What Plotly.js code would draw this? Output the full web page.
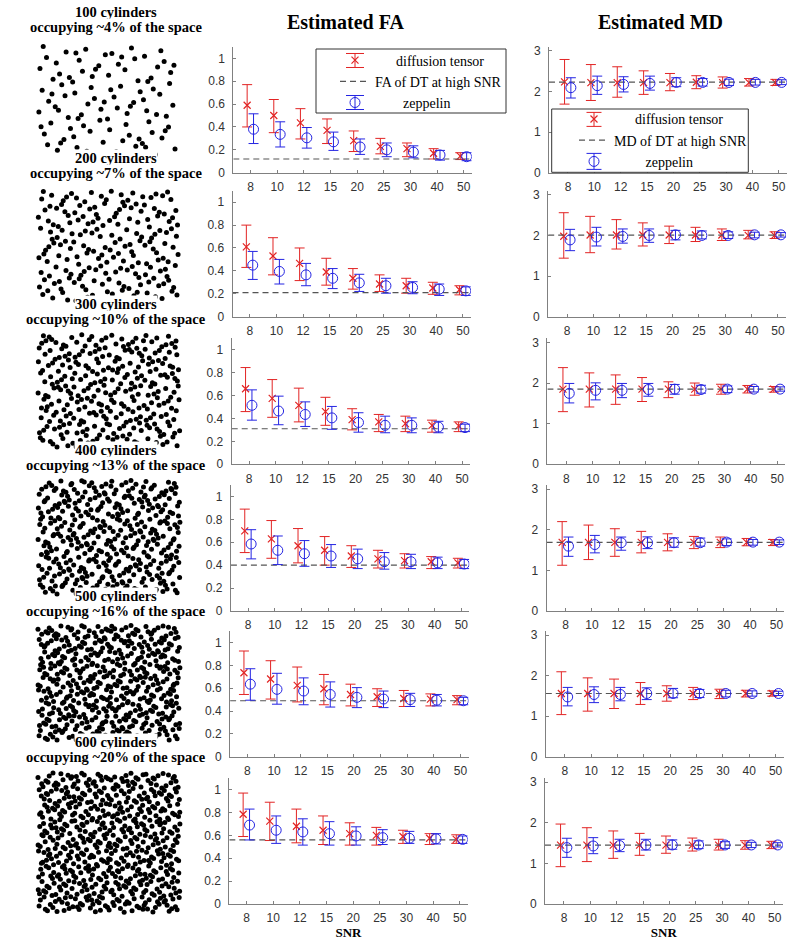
<!DOCTYPE html>
<html><head><meta charset="utf-8">
<script src="https://cdn.plot.ly/plotly-3.0.1.min.js"></script>
<style>html,body{margin:0;padding:0;background:#fff}#chart{width:800px;height:948px}</style>
</head><body><div id="chart"></div>
<script>
// ---------------- data ----------------
const snr = [8, 10, 12, 15, 20, 25, 30, 40, 50];
const cylinders = [100, 200, 300, 400, 500, 600];
const occupancy = [4, 7, 10, 13, 16, 20];

const faRef = [0.12, 0.21, 0.31, 0.40, 0.49, 0.56];
const faDtMean = [
  [0.59, 0.50, 0.435, 0.37, 0.28, 0.23, 0.21, 0.17, 0.145],
  [0.61, 0.53, 0.465, 0.39, 0.335, 0.285, 0.27, 0.25, 0.235],
  [0.66, 0.575, 0.515, 0.46, 0.39, 0.37, 0.355, 0.34, 0.335],
  [0.70, 0.63, 0.57, 0.53, 0.48, 0.455, 0.44, 0.43, 0.42],
  [0.735, 0.68, 0.625, 0.595, 0.545, 0.525, 0.51, 0.505, 0.50],
  [0.785, 0.725, 0.68, 0.645, 0.615, 0.60, 0.59, 0.575, 0.565]];
const faDtHigh = [
  [0.77, 0.64, 0.56, 0.47, 0.365, 0.30, 0.26, 0.21, 0.175],
  [0.80, 0.69, 0.60, 0.51, 0.42, 0.365, 0.335, 0.30, 0.27],
  [0.845, 0.74, 0.665, 0.585, 0.485, 0.435, 0.42, 0.385, 0.37],
  [0.89, 0.79, 0.72, 0.65, 0.57, 0.53, 0.50, 0.475, 0.46],
  [0.925, 0.84, 0.785, 0.72, 0.635, 0.595, 0.58, 0.55, 0.535],
  [0.97, 0.89, 0.83, 0.77, 0.71, 0.67, 0.645, 0.615, 0.605]];
const faDtLow = [
  [0.40, 0.35, 0.295, 0.255, 0.185, 0.165, 0.14, 0.12, 0.115],
  [0.43, 0.365, 0.315, 0.275, 0.24, 0.22, 0.205, 0.195, 0.19],
  [0.46, 0.41, 0.37, 0.34, 0.30, 0.285, 0.285, 0.28, 0.285],
  [0.51, 0.46, 0.42, 0.40, 0.38, 0.375, 0.375, 0.37, 0.375],
  [0.545, 0.505, 0.48, 0.455, 0.445, 0.44, 0.44, 0.445, 0.455],
  [0.59, 0.555, 0.535, 0.52, 0.515, 0.515, 0.53, 0.52, 0.53]];
const faZepMean = [
  [0.38, 0.335, 0.305, 0.27, 0.225, 0.20, 0.18, 0.155, 0.14],
  [0.45, 0.395, 0.365, 0.335, 0.295, 0.27, 0.255, 0.24, 0.225],
  [0.515, 0.465, 0.435, 0.405, 0.365, 0.34, 0.34, 0.325, 0.32],
  [0.585, 0.53, 0.50, 0.48, 0.455, 0.43, 0.43, 0.42, 0.41],
  [0.635, 0.59, 0.575, 0.545, 0.52, 0.505, 0.50, 0.495, 0.49],
  [0.69, 0.645, 0.63, 0.615, 0.595, 0.58, 0.575, 0.57, 0.565]];
const faZepHigh = [
  [0.515, 0.445, 0.395, 0.355, 0.295, 0.26, 0.235, 0.195, 0.175],
  [0.57, 0.50, 0.465, 0.42, 0.37, 0.335, 0.305, 0.285, 0.26],
  [0.65, 0.595, 0.545, 0.505, 0.45, 0.42, 0.405, 0.375, 0.35],
  [0.71, 0.655, 0.615, 0.58, 0.54, 0.51, 0.495, 0.47, 0.45],
  [0.77, 0.73, 0.69, 0.655, 0.605, 0.575, 0.555, 0.545, 0.52],
  [0.83, 0.77, 0.745, 0.72, 0.675, 0.65, 0.635, 0.615, 0.595]];
const faZepLow = [
  [0.255, 0.225, 0.215, 0.195, 0.16, 0.14, 0.13, 0.11, 0.105],
  [0.325, 0.285, 0.27, 0.245, 0.22, 0.205, 0.20, 0.185, 0.185],
  [0.385, 0.345, 0.33, 0.305, 0.28, 0.275, 0.275, 0.275, 0.285],
  [0.455, 0.405, 0.39, 0.38, 0.37, 0.365, 0.37, 0.37, 0.37],
  [0.495, 0.46, 0.455, 0.435, 0.43, 0.43, 0.44, 0.445, 0.455],
  [0.56, 0.53, 0.515, 0.515, 0.515, 0.52, 0.53, 0.525, 0.53]];

const mdRef = [2.23, 2.01, 1.85, 1.69, 1.56, 1.45];
const mdDtMean = [
  [2.24, 2.22, 2.22, 2.22, 2.22, 2.23, 2.22, 2.22, 2.22],
  [1.98, 2.01, 2.01, 2.01, 2.01, 2.01, 2.01, 2.00, 2.00],
  [1.85, 1.85, 1.85, 1.85, 1.85, 1.85, 1.85, 1.85, 1.85],
  [1.69, 1.69, 1.69, 1.69, 1.69, 1.69, 1.69, 1.69, 1.69],
  [1.56, 1.56, 1.56, 1.56, 1.56, 1.56, 1.56, 1.56, 1.56],
  [1.45, 1.45, 1.45, 1.45, 1.45, 1.45, 1.45, 1.45, 1.45]];
const mdDtHigh = [
  [2.79, 2.665, 2.61, 2.51, 2.445, 2.39, 2.36, 2.32, 2.30],
  [2.56, 2.47, 2.39, 2.31, 2.23, 2.20, 2.16, 2.125, 2.09],
  [2.38, 2.25, 2.20, 2.135, 2.03, 2.00, 1.97, 1.94, 1.915],
  [2.20, 2.115, 2.025, 1.96, 1.90, 1.835, 1.82, 1.785, 1.76],
  [2.095, 1.945, 1.915, 1.83, 1.75, 1.71, 1.665, 1.64, 1.625],
  [1.97, 1.88, 1.80, 1.74, 1.675, 1.625, 1.595, 1.56, 1.545]];
const mdDtLow = [
  [1.69, 1.78, 1.86, 1.93, 2.02, 2.07, 2.085, 2.135, 2.15],
  [1.44, 1.575, 1.665, 1.74, 1.80, 1.85, 1.875, 1.915, 1.925],
  [1.295, 1.41, 1.475, 1.545, 1.64, 1.70, 1.725, 1.755, 1.775],
  [1.125, 1.265, 1.345, 1.43, 1.48, 1.535, 1.56, 1.605, 1.61],
  [1.04, 1.125, 1.19, 1.29, 1.37, 1.41, 1.435, 1.475, 1.495],
  [0.92, 1.045, 1.125, 1.20, 1.25, 1.305, 1.33, 1.35, 1.365]];
const mdZepMean = [
  [2.095, 2.145, 2.175, 2.20, 2.225, 2.225, 2.225, 2.225, 2.225],
  [1.89, 1.96, 1.975, 2.00, 2.015, 2.00, 2.00, 2.015, 2.015],
  [1.745, 1.82, 1.82, 1.84, 1.85, 1.84, 1.85, 1.85, 1.85],
  [1.595, 1.635, 1.68, 1.68, 1.68, 1.68, 1.695, 1.695, 1.695],
  [1.475, 1.535, 1.535, 1.56, 1.56, 1.56, 1.56, 1.56, 1.56],
  [1.39, 1.43, 1.44, 1.455, 1.455, 1.455, 1.455, 1.455, 1.455]];
const mdZepHigh = [
  [2.34, 2.38, 2.365, 2.38, 2.34, 2.32, 2.305, 2.30, 2.29],
  [2.15, 2.20, 2.16, 2.16, 2.125, 2.11, 2.09, 2.08, 2.07],
  [1.99, 2.005, 1.99, 1.99, 1.965, 1.945, 1.93, 1.915, 1.905],
  [1.82, 1.86, 1.82, 1.825, 1.80, 1.795, 1.775, 1.76, 1.75],
  [1.71, 1.725, 1.71, 1.70, 1.685, 1.66, 1.64, 1.625, 1.615],
  [1.62, 1.635, 1.595, 1.595, 1.58, 1.555, 1.535, 1.52, 1.51]];
const mdZepLow = [
  [1.84, 1.93, 1.99, 2.035, 2.12, 2.135, 2.15, 2.16, 2.17],
  [1.625, 1.74, 1.81, 1.83, 1.89, 1.915, 1.925, 1.94, 1.96],
  [1.51, 1.585, 1.64, 1.675, 1.725, 1.75, 1.765, 1.78, 1.80],
  [1.345, 1.43, 1.495, 1.535, 1.57, 1.595, 1.61, 1.62, 1.635],
  [1.255, 1.335, 1.38, 1.41, 1.455, 1.46, 1.475, 1.495, 1.51],
  [1.15, 1.24, 1.29, 1.33, 1.35, 1.365, 1.37, 1.39, 1.405]];

// ---------------- styling / layout ----------------
const W = 800, H = 948;
const RED = 'rgb(226,36,36)', BLUE = 'rgb(36,36,226)', AXC = '#808080';
const SERIF = 'Liberation Serif, Times New Roman, serif';
const SANS = 'Liberation Sans, Arial, sans-serif';
const nb = n => '&nbsp;'.repeat(n);
const ax = n => (n === 1 ? '' : String(n));
const PX = v => v / W, PY = v => 1 - v / H;
const rowBottom = [172.7, 316.6, 464.2, 610.9, 756.8, 904];
const plotH = 125.8;
const faRange = [-0.65, 8.3], mdRange = [-0.72, 8.3];
const xIdx = snr.map((_, i) => i);

const traces = [];
const layout = {
  width: W, height: H, margin: {l: 0, r: 0, t: 0, b: 0},
  paper_bgcolor: '#fff', plot_bgcolor: 'rgba(0,0,0,0)',
  showlegend: true, shapes: [], annotations: [], font: {family: SANS}
};

function panel(n, xdomPx, ydom, xr, yr, dtick, mean, hi, lo, zMean, zHi, zLo, ref, legendName, refLabel, bottom) {
  layout['xaxis' + ax(n)] = {
    domain: [PX(xdomPx[0]), PX(xdomPx[1])], range: xr, anchor: 'y' + ax(n),
    showline: true, linecolor: AXC, linewidth: 1, ticks: 'inside', ticklen: 3, tickcolor: AXC,
    tickvals: xIdx, ticktext: snr.map(String), ticklabelstandoff: 3,
    tickfont: {family: SANS, size: 12, color: '#333'}, showgrid: false, zeroline: false, fixedrange: true,
    title: bottom ? {text: '<b>SNR</b>', font: {family: SERIF, size: 13, color: '#000'}, standoff: 3} : {text: ''}
  };
  layout['yaxis' + ax(n)] = {
    domain: ydom, range: yr, anchor: 'x' + ax(n), tick0: 0, dtick: dtick,
    showline: true, linecolor: AXC, linewidth: 1, ticks: 'inside', ticklen: 3, tickcolor: AXC,
    ticklabelstandoff: 5, tickfont: {family: SANS, size: 12, color: '#333'},
    showgrid: false, zeroline: false, fixedrange: true
  };
  const common = {type: 'scatter', xaxis: 'x' + ax(n), yaxis: 'y' + ax(n), hoverinfo: 'skip',
    showlegend: !!legendName, legend: legendName || 'legend'};
  traces.push(Object.assign({}, common, {
    mode: 'markers', name: nb(6) + 'diffusion tensor',
    x: xIdx.map(i => i - 0.13), y: mean,
    error_y: {type: 'data', symmetric: false, array: hi.map((v, i) => v - mean[i]),
      arrayminus: mean.map((v, i) => v - lo[i]), color: RED, thickness: 1, width: 5},
    marker: {symbol: 'x-thin-open', size: 7, color: RED, line: {color: RED, width: 1.2}}
  }));
  traces.push(Object.assign({}, common, {
    mode: 'lines', name: refLabel, x: xr, y: [ref, ref],
    line: {color: '#555', width: 1.2, dash: '6px,4px'}
  }));
  traces.push(Object.assign({}, common, {
    mode: 'markers', name: nb(legendName === 'legend2' ? 9 : 8) + 'zeppelin',
    x: xIdx.map(i => i + 0.11), y: zMean,
    error_y: {type: 'data', symmetric: false, array: zHi.map((v, i) => v - zMean[i]),
      arrayminus: zMean.map((v, i) => v - zLo[i]), color: BLUE, thickness: 1, width: 5},
    marker: {symbol: 'circle-open', size: 10, color: BLUE, line: {color: BLUE, width: 1}}
  }));
}

// illustrative cylinder layout (individual positions are not readable from the reference):
// a deterministic quasi-uniform Halton sequence fills each square with the stated number of cylinders
function halton(i, b) { let f = 1, r = 0; while (i > 0) { f /= b; r += f * (i % b); i = Math.floor(i / b); } return r; }
const dotBoxes = [[35, 180, 43, 158], [35, 182, 188, 304], [35, 183, 332, 450], [35, 183, 478, 597], [35, 183, 623, 743], [35, 183, 770, 915]];

for (let k = 0; k < 6; k++) {
  const s = -0.8 * k;
  const yb = rowBottom[k], yt = yb - plotH;
  const ydom = [PY(yb), PY(yt)];
  panel(2 * k + 1, [233.3 + s, 471.7 + s], ydom, faRange, [0, 1.1], 0.2,
    faDtMean[k], faDtHigh[k], faDtLow[k], faZepMean[k], faZepHigh[k], faZepLow[k], faRef[k],
    k === 0 ? 'legend' : null, 'FA of DT at high SNR', k === 5);
  panel(2 * k + 2, [549 + s, 786.7 + s], ydom, mdRange, [0, 3.1], 1,
    mdDtMean[k], mdDtHigh[k], mdDtLow[k], mdZepMean[k], mdZepHigh[k], mdZepLow[k], mdRef[k],
    k === 0 ? 'legend2' : null, 'MD of DT at high SNR', k === 5);

  // cylinder cross-section panel
  const n = 13 + k, b = dotBoxes[k], N = cylinders[k];
  layout['xaxis' + n] = {domain: [PX(b[0]), PX(b[1])], range: [-0.02, 1.02], visible: false, anchor: 'y' + n, fixedrange: true};
  layout['yaxis' + n] = {domain: [PY(b[3]), PY(b[2])], range: [-0.02, 1.02], visible: false, anchor: 'x' + n, fixedrange: true};
  const px = [], py = [];
  for (let i = 0; i < N; i++) { px.push(halton(i + 1 + 37 * k, 2)); py.push(halton(i + 1 + 37 * k, 3)); }
  traces.push({type: 'scatter', mode: 'markers', x: px, y: py, xaxis: 'x' + n, yaxis: 'y' + n,
    marker: {size: 5, color: '#000'}, showlegend: false, hoverinfo: 'skip'});

  // row labels
  layout.annotations.push({xref: 'paper', yref: 'paper', x: PX(116), y: PY(12 + 146 * k),
    text: '<b>' + cylinders[k] + ' cylinders</b>', showarrow: false, xanchor: 'center', yanchor: 'middle',
    bgcolor: '#fff', borderpad: 0, font: {family: SERIF, size: 14.5, color: '#000'}});
  layout.annotations.push({xref: 'paper', yref: 'paper', x: PX(116), y: PY(27 + 146 * k),
    text: '<b>occupying ~' + occupancy[k] + '% of the space</b>', showarrow: false, xanchor: 'center', yanchor: 'middle',
    bgcolor: '#fff', borderpad: 0, font: {family: SERIF, size: 14.5, color: '#000'}});
}

layout.annotations.push({xref: 'paper', yref: 'paper', x: PX(345.5), y: PY(22), text: '<b>Estimated FA</b>',
  showarrow: false, xanchor: 'center', yanchor: 'middle', font: {family: SERIF, size: 20, color: '#000'}});
layout.annotations.push({xref: 'paper', yref: 'paper', x: PX(660), y: PY(22), text: '<b>Estimated MD</b>',
  showarrow: false, xanchor: 'center', yanchor: 'middle', font: {family: SERIF, size: 20, color: '#000'}});

// legend frames and error-bar icons (MATLAB-style errorbar legend glyphs)
layout.shapes.push({type: 'rect', xref: 'paper', yref: 'paper', x0: PX(316), x1: PX(506), y0: PY(49), y1: PY(113),
  fillcolor: '#fff', line: {color: '#333', width: 1}, layer: 'above'});
layout.shapes.push({type: 'rect', xref: 'paper', yref: 'paper', x0: PX(551.7), x1: PX(748.3), y0: PY(109), y1: PY(172.3),
  fillcolor: '#fff', line: {color: '#333', width: 1}, layer: 'above'});
function icon(cx, cy, hw, hh, color) {
  const X = v => PX(v).toFixed(5), Y = v => PY(v).toFixed(5);
  return {type: 'path', xref: 'paper', yref: 'paper', layer: 'above', line: {color: color, width: 1},
    path: 'M' + X(cx - hw) + ',' + Y(cy - hh) + 'L' + X(cx + hw) + ',' + Y(cy - hh) +
      'M' + X(cx) + ',' + Y(cy - hh) + 'L' + X(cx) + ',' + Y(cy + hh) +
      'M' + X(cx - hw) + ',' + Y(cy + hh) + 'L' + X(cx + hw) + ',' + Y(cy + hh)};
}
layout.shapes.push(icon(355, 60.5, 9, 7, RED), icon(355, 102.5, 9, 7, BLUE));
layout.shapes.push(icon(594, 119.4, 7.5, 7, RED), icon(594, 161.4, 7.5, 8, BLUE));

const legFont = {family: SERIF, size: 14, color: '#000'};
layout.legend = {x: PX(335), xanchor: 'left', y: PY(44.5), yanchor: 'top', bgcolor: 'rgba(0,0,0,0)', borderwidth: 0,
  font: legFont, tracegroupgap: 0, itemclick: false, itemdoubleclick: false};
layout.legend2 = {x: PX(574), xanchor: 'left', y: PY(103.4), yanchor: 'top', bgcolor: 'rgba(0,0,0,0)', borderwidth: 0,
  font: legFont, tracegroupgap: 0, itemclick: false, itemdoubleclick: false};

Plotly.newPlot('chart', traces, layout, {displayModeBar: false, staticPlot: true});
</script>
</body></html>
